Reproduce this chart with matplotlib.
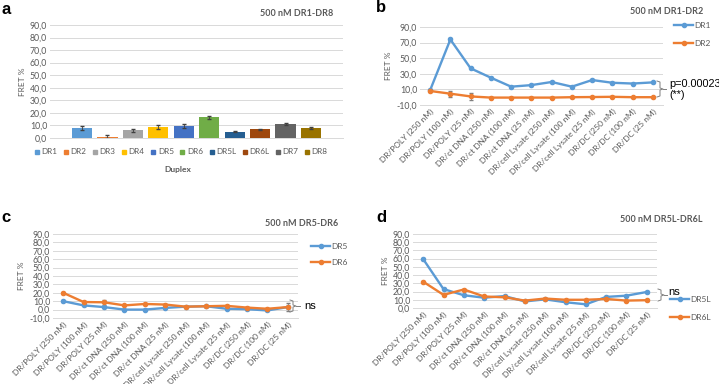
import matplotlib
matplotlib.use("Agg")
import matplotlib.pyplot as plt
from matplotlib.lines import Line2D
from matplotlib.ticker import FuncFormatter

plt.rcParams['font.family'] = ['Lato', 'DejaVu Sans']

W, H = 719, 384

# panel a - bar chart
duplex = ["DR1", "DR2", "DR3", "DR4", "DR5", "DR6", "DR5L", "DR6L", "DR7", "DR8"]
fret_a = [8.0, 1.0, 6.0, 8.5, 9.5, 16.5, 5.0, 7.0, 11.0, 8.0]
err_a = [1.5, 1.0, 1.5, 1.5, 1.5, 1.0, 0.5, 0.5, 1.0, 0.7]
bar_colors = ["#5B9BD5", "#ED7D31", "#A5A5A5", "#FFC000", "#4472C4",
              "#70AD47", "#255E91", "#9E480E", "#636363", "#997300"]

# panels b-d - line charts
conditions = ["DR/POLY (250 nM)", "DR/POLY (100 nM)", "DR/POLY (25 nM)",
              "DR/ct DNA (250 nM)", "DR/ct DNA (100 nM)", "DR/ct DNA (25 nM)",
              "DR/cell Lysate (250 nM)", "DR/cell Lysate (100 nM)", "DR/cell Lysate (25 nM)",
              "DR/DC (250 nM)", "DR/DC (100 nM)", "DR/DC (25 nM)"]

dr1 = [9.0, 74.0, 37.0, 25.0, 13.5, 15.5, 19.5, 13.5, 22.0, 18.5, 17.5, 19.0]
dr1_err = [1.0, 1.5, 1.0, 1.0, 1.0, 1.0, 1.0, 1.0, 1.0, 1.0, 1.0, 1.0]
dr2 = [8.0, 4.5, 1.0, -0.5, -0.5, -0.5, -0.5, 0.0, 0.2, 0.5, 0.0, 0.0]
dr2_err = [1.0, 4.0, 4.0, 0.5, 0.5, 0.5, 0.5, 0.5, 0.5, 0.5, 0.5, 0.5]

dr5 = [10.0, 5.0, 3.0, 0.0, 0.0, 2.0, 3.5, 4.0, 1.0, 0.5, -1.0, 3.0]
dr5_err = [1.0, 1.0, 1.0, 0.5, 0.5, 0.5, 0.5, 0.5, 0.5, 0.5, 0.5, 1.0]
dr6 = [20.0, 9.0, 8.7, 5.0, 6.7, 6.0, 3.5, 4.0, 4.5, 2.4, 1.0, 3.0]
dr6_err = [1.0, 1.5, 3.0, 1.0, 1.5, 1.0, 0.5, 0.5, 1.0, 0.5, 0.5, 5.0]

dr5l = [59.5, 23.0, 15.5, 12.5, 14.5, 8.0, 10.5, 7.0, 4.5, 13.5, 15.0, 19.5]
dr5l_err = [1.0, 1.0, 1.0, 1.0, 1.5, 1.0, 1.0, 1.0, 1.0, 1.0, 1.0, 1.0]
dr6l = [32.0, 16.0, 22.5, 14.0, 13.0, 9.0, 11.5, 10.0, 10.0, 11.0, 9.0, 9.5]
dr6l_err = [1.0, 1.0, 1.0, 1.0, 1.0, 1.0, 1.0, 1.0, 1.0, 1.0, 1.0, 1.0]

BLUE = "#5B9BD5"
ORANGE = "#ED7D31"
GRAY_TXT = "#595959"
GRID = "#D9D9D9"

fig = plt.figure(figsize=(W / 100, H / 100), dpi=100)


def px_axes(x0, x1, ytop, ybot):
    return fig.add_axes([x0 / W, 1 - ybot / H, (x1 - x0) / W, (ybot - ytop) / H])


def fx(x):
    return x / W


def fy(y):
    return 1 - y / H


def style(ax, ymin, ymax, step):
    ax.set_ylim(ymin, ymax)
    ax.set_yticks(list(range(ymin, ymax + 1, step)))
    ax.yaxis.set_major_formatter(FuncFormatter(lambda v, p: f"{v:.1f}".replace(".", ",")))
    ax.grid(axis="y", color=GRID, linewidth=0.7)
    ax.set_axisbelow(True)
    for s in ["top", "right", "left"]:
        ax.spines[s].set_visible(False)
    ax.spines["bottom"].set_color(GRID)
    ax.spines["bottom"].set_linewidth(0.7)
    ax.tick_params(axis="both", length=0, labelsize=6.3, colors=GRAY_TXT, pad=2)
    ax.set_ylabel("FRET %", fontsize=6, color=GRAY_TXT, labelpad=3)


def line_panel(ax, s1, e1, s2, e2):
    x = list(range(len(conditions)))
    for s, e, c in [(s1, e1, BLUE), (s2, e2, ORANGE)]:
        ax.errorbar(x, s, yerr=e, color=c, lw=1.7, marker="o", ms=3,
                    ecolor="#7F7F7F", elinewidth=0.6, capsize=1.5)
    ax.set_xlim(-0.5, len(conditions) - 0.5)
    ax.set_xticks(x)
    ax.set_xticklabels(conditions, rotation=45, ha="right", rotation_mode="anchor",
                       fontsize=6, color=GRAY_TXT)


def legend(names, x, y, spacing):
    handles = [Line2D([0], [0], color=c, lw=1.7, marker="o", ms=3) for c in (BLUE, ORANGE)]
    fig.legend(handles, names, loc="upper left", bbox_to_anchor=(fx(x), fy(y)),
               frameon=False, fontsize=6, handlelength=2.3, handletextpad=0.1,
               labelspacing=spacing, labelcolor=GRAY_TXT, borderaxespad=0, borderpad=0)


def brace(x, ytop, ybot, tip):
    ym = (ytop + ybot) / 2
    xs = [x - 3, x, x, x + 3, x, x, x - 3]
    ys = [ytop, ytop + 1, ym - 1, ym, ym + 1, ybot - 1, ybot]
    fig.add_artist(Line2D([fx(v) for v in xs], [fy(v) for v in ys], color="#7F7F7F", lw=0.7))
    fig.add_artist(Line2D([fx(x + 3), fx(tip)], [fy(ym), fy(ym)], color="#7F7F7F", lw=0.7))


# ---- a ----
ax_a = px_axes(50, 343, 25, 138)
style(ax_a, 0, 90, 10)
ax_a.bar(range(len(duplex)), fret_a, width=0.79, color=bar_colors,
         yerr=err_a, ecolor="#404040", error_kw=dict(elinewidth=0.6, capsize=1.5))
ax_a.set_xlim(-1.26, len(duplex) - 1 + 1.26)
ax_a.set_xticks([])
bar_handles = [Line2D([0], [0], color=c, marker="s", ms=3.5, lw=0) for c in bar_colors]
fig.legend(bar_handles, duplex, loc="center", bbox_to_anchor=(fx(181), fy(152)), ncol=10,
           frameon=False, fontsize=5.9, handlelength=0.6, handletextpad=0.25,
           columnspacing=0.75, labelcolor=GRAY_TXT)
fig.text(fx(178), fy(169), "Duplex", fontsize=6, fontweight="bold", color=GRAY_TXT,
         ha="center", va="center")
fig.text(fx(297), fy(13), "500 nM DR1-DR8", fontsize=6.5, fontweight="bold",
         color=GRAY_TXT, ha="center", va="center")
fig.text(fx(1), fy(10), "a", fontsize=12, fontweight="bold", ha="left", va="center",
         family=["Liberation Sans"])

# ---- b ----
ax_b = px_axes(420, 663, 27, 105)
style(ax_b, -10, 90, 20)
line_panel(ax_b, dr1, dr1_err, dr2, dr2_err)
legend(["DR1", "DR2"], 674, 22, 1.35)
brace(660, 81, 97, 666)
fig.text(fx(669), fy(84), "p=0.00023", fontsize=7.8, family=["Liberation Sans"],
         ha="left", va="center")
fig.text(fx(669), fy(95), "(**)", fontsize=7.8, family=["Liberation Sans"],
         ha="left", va="center")
fig.text(fx(667), fy(12), "500 nM DR1-DR2", fontsize=6.5, fontweight="bold",
         color=GRAY_TXT, ha="center", va="center")
fig.text(fx(376), fy(8), "b", fontsize=12, fontweight="bold", ha="left", va="center",
         family=["Liberation Sans"])

# ---- c ----
ax_c = px_axes(53, 298, 234, 318)
style(ax_c, -10, 90, 10)
line_panel(ax_c, dr5, dr5_err, dr6, dr6_err)
legend(["DR5", "DR6"], 311, 243, 1.1)
brace(293, 300, 312, 300)
fig.text(fx(304), fy(306), "ns", fontsize=8, family=["Liberation Sans"],
         ha="left", va="center")
fig.text(fx(302), fy(223), "500 nM DR5-DR6", fontsize=6.5, fontweight="bold",
         color=GRAY_TXT, ha="center", va="center")
fig.text(fx(1), fy(218), "c", fontsize=12, fontweight="bold", ha="left", va="center",
         family=["Liberation Sans"])

# ---- d ----
ax_d = px_axes(413, 657, 234, 308)
style(ax_d, 0, 90, 10)
line_panel(ax_d, dr5l, dr5l_err, dr6l, dr6l_err)
legend(["DR5L", "DR6L"], 670, 296, 1.3)
brace(661, 289, 301, 667)
fig.text(fx(668), fy(292), "ns", fontsize=8, family=["Liberation Sans"],
         ha="left", va="center")
fig.text(fx(661), fy(219), "500 nM DR5L-DR6L", fontsize=6.5, fontweight="bold",
         color=GRAY_TXT, ha="center", va="center")
fig.text(fx(376), fy(218), "d", fontsize=12, fontweight="bold", ha="left", va="center",
         family=["Liberation Sans"])

fig.savefig("out.png", dpi=100)
